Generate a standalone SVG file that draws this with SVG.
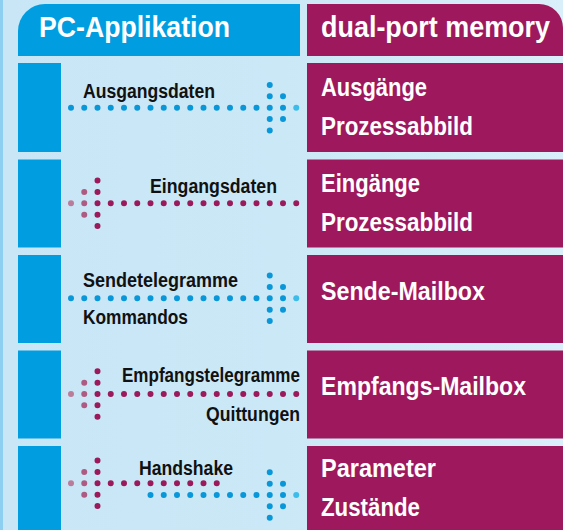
<svg xmlns="http://www.w3.org/2000/svg" width="563" height="530" viewBox="0 0 563 530">
<defs>
<linearGradient id="bg" x1="0" y1="0" x2="1" y2="0">
<stop offset="0" stop-color="#c8e6f6"/>
<stop offset="0.5" stop-color="#cbe8f7"/>
<stop offset="1" stop-color="#d9effa"/>
</linearGradient>
<style>
.hdr{font-family:"Liberation Sans",Arial,sans-serif;font-weight:bold;font-size:30px;fill:#fff}
.box{font-family:"Liberation Sans",Arial,sans-serif;font-weight:bold;font-size:26px;fill:#fff}
.lbl{font-family:"Liberation Sans",Arial,sans-serif;font-weight:bold;font-size:20px;fill:#111}
.pc{fill:#009ee0}
.mem{fill:#9d185c}
.bh{stroke:#0897d8;stroke-width:6;stroke-linecap:round;stroke-dasharray:0 13.25;fill:none}
.bv{stroke:#0897d8;stroke-width:6;stroke-linecap:round;stroke-dasharray:0 11.35;fill:none}
.ph{stroke:#9a1a5b;stroke-width:6;stroke-linecap:round;stroke-dasharray:0 13.25;fill:none}
.pv{stroke:#9a1a5b;stroke-width:6;stroke-linecap:round;stroke-dasharray:0 11.35;fill:none}
.pv2{stroke:#ad5b83;stroke-width:6;stroke-linecap:round;stroke-dasharray:0 11.35;fill:none}
.btip{fill:#3cbde9}
.ptip{fill:#bb7c9a}
</style>
</defs>
<rect x="0" y="0" width="563" height="530" fill="url(#bg)"/>
<rect x="0" y="0" width="3" height="530" fill="#8dcff0"/>

<g id="header-pc">
<path class="pc" d="M18 56 V31 A27 27 0 0 1 45 4 H300 V56 Z"/>
<text class="hdr" x="39" y="37" textLength="191" lengthAdjust="spacingAndGlyphs">PC-Applikation</text>
</g>
<g id="header-dpm">
<path class="mem" d="M307 56 V4 H539 A24 24 0 0 1 563 28 V56 Z"/>
<text class="hdr" x="321" y="37" textLength="229" lengthAdjust="spacingAndGlyphs">dual-port memory</text>
</g>

<g id="pc-1"><rect class="pc" x="18" y="63" width="43" height="89"/></g>
<g id="pc-2"><rect class="pc" x="18" y="159.5" width="43" height="88"/></g>
<g id="pc-3"><rect class="pc" x="18" y="255" width="43" height="88"/></g>
<g id="pc-4"><rect class="pc" x="18" y="350.5" width="43" height="88"/></g>
<g id="pc-5"><rect class="pc" x="18" y="446" width="43" height="84"/></g>

<g id="mem-1">
<rect class="mem" x="307" y="63" width="256" height="89"/>
<text class="box" x="321" y="96" textLength="106" lengthAdjust="spacingAndGlyphs">Ausgänge</text>
<text class="box" x="321" y="135" textLength="152" lengthAdjust="spacingAndGlyphs">Prozessabbild</text>
</g>
<g id="mem-2">
<rect class="mem" x="307" y="159.5" width="256" height="88"/>
<text class="box" x="321" y="192" textLength="99" lengthAdjust="spacingAndGlyphs">Eingänge</text>
<text class="box" x="321" y="231" textLength="152" lengthAdjust="spacingAndGlyphs">Prozessabbild</text>
</g>
<g id="mem-3">
<rect class="mem" x="307" y="255" width="256" height="88"/>
<text class="box" x="321" y="300" textLength="164" lengthAdjust="spacingAndGlyphs">Sende-Mailbox</text>
</g>
<g id="mem-4">
<rect class="mem" x="307" y="350.5" width="256" height="88"/>
<text class="box" x="321" y="395" textLength="205" lengthAdjust="spacingAndGlyphs">Empfangs-Mailbox</text>
</g>
<g id="mem-5">
<rect class="mem" x="307" y="446" width="256" height="84"/>
<text class="box" x="321" y="477" textLength="115" lengthAdjust="spacingAndGlyphs">Parameter</text>
<text class="box" x="321" y="516" textLength="99" lengthAdjust="spacingAndGlyphs">Zustände</text>
</g>

<g id="connectors">
<g id="c1">
<line class="bh" x1="71" y1="107.7" x2="257" y2="107.7"/>
<line class="bv" x1="269.75" y1="85" x2="269.75" y2="130.6"/>
<line class="bv" x1="283" y1="96.35" x2="283" y2="119.3"/>
<circle class="btip" cx="296.25" cy="107.7" r="3"/>
<text class="lbl" x="83" y="98" textLength="132" lengthAdjust="spacingAndGlyphs">Ausgangsdaten</text>
</g>
<g id="c2">
<circle class="ptip" cx="71" cy="203.3" r="3"/>
<line class="pv2" x1="84.25" y1="191.95" x2="84.25" y2="214.9"/>
<line class="pv" x1="97.5" y1="180.6" x2="97.5" y2="226.2"/>
<line class="ph" x1="110.75" y1="203.3" x2="296.75" y2="203.3"/>
<text class="lbl" x="150" y="192.5" textLength="127" lengthAdjust="spacingAndGlyphs">Eingangsdaten</text>
</g>
<g id="c3">
<line class="bh" x1="71" y1="298.3" x2="257" y2="298.3"/>
<line class="bv" x1="269.75" y1="275.6" x2="269.75" y2="321.2"/>
<line class="bv" x1="283" y1="286.95" x2="283" y2="309.9"/>
<circle class="btip" cx="296.25" cy="298.3" r="3"/>
<text class="lbl" x="83" y="286.5" textLength="155" lengthAdjust="spacingAndGlyphs">Sendetelegramme</text>
<text class="lbl" x="83" y="324" textLength="105" lengthAdjust="spacingAndGlyphs">Kommandos</text>
</g>
<g id="c4">
<circle class="ptip" cx="71" cy="394" r="3"/>
<line class="pv2" x1="84.25" y1="382.65" x2="84.25" y2="405.6"/>
<line class="pv" x1="97.5" y1="371.3" x2="97.5" y2="416.9"/>
<line class="ph" x1="110.75" y1="394" x2="296.75" y2="394"/>
<text class="lbl" x="122" y="382.3" textLength="178" lengthAdjust="spacingAndGlyphs">Empfangstelegramme</text>
<text class="lbl" x="206" y="420.7" textLength="94" lengthAdjust="spacingAndGlyphs">Quittungen</text>
</g>
<g id="c5">
<circle class="ptip" cx="71" cy="483.3" r="3"/>
<line class="pv2" x1="84.25" y1="471.95" x2="84.25" y2="494.9"/>
<line class="pv" x1="97.5" y1="460.6" x2="97.5" y2="506.2"/>
<line class="ph" x1="110.75" y1="483.3" x2="217.25" y2="483.3"/>
<line class="bh" x1="150.5" y1="495" x2="257" y2="495"/>
<line class="bv" x1="269.75" y1="472.3" x2="269.75" y2="517.9"/>
<line class="bv" x1="283" y1="483.65" x2="283" y2="506.6"/>
<circle class="btip" cx="296.25" cy="495" r="3"/>
<text class="lbl" x="139" y="475" textLength="94" lengthAdjust="spacingAndGlyphs">Handshake</text>
</g>
</g>
</svg>
